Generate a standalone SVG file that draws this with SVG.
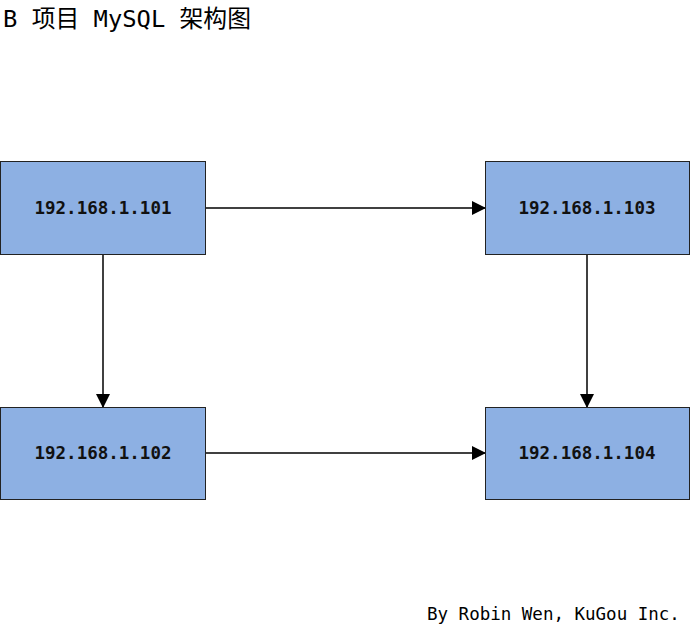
<svg xmlns="http://www.w3.org/2000/svg" width="690" height="626" viewBox="0 0 690 626">
<style>
.box{fill:#8db0e3;stroke:#222;stroke-width:1}
.lbl{font-family:"DejaVu Sans Mono","Liberation Mono",monospace;font-size:17.5px;font-weight:bold;fill:#111;text-anchor:middle}
.ln{stroke:#000;stroke-width:1.5;fill:none}
</style>
<defs><marker id="b" markerWidth="14" markerHeight="14" refX="13" refY="7" orient="auto" markerUnits="userSpaceOnUse"><path d="M0,0 L14,7 L0,14 Z" fill="#000"/></marker></defs>
<rect width="690" height="626" fill="#fff"/>
<text x="3" y="27" font-family="'DejaVu Sans Mono','Noto Sans CJK SC',monospace" font-size="23.8" fill="#000">B 项目 MySQL 架构图</text>
<g id="connectors">
<line class="ln" x1="205" y1="208" x2="485" y2="208" marker-end="url(#b)"/>
<line class="ln" x1="103" y1="255" x2="103" y2="407" marker-end="url(#b)"/>
<line class="ln" x1="587" y1="255" x2="587" y2="407" marker-end="url(#b)"/>
<line class="ln" x1="205" y1="453" x2="485" y2="453" marker-end="url(#b)"/>
</g>
<g id="n101"><rect class="box" x="0.5" y="161.5" width="205" height="93"/><text class="lbl" x="103" y="214">192.168.1.101</text></g>
<g id="n103"><rect class="box" x="485.5" y="161.5" width="204" height="93"/><text class="lbl" x="587" y="214">192.168.1.103</text></g>
<g id="n102"><rect class="box" x="0.5" y="407.5" width="205" height="92"/><text class="lbl" x="103" y="459">192.168.1.102</text></g>
<g id="n104"><rect class="box" x="485.5" y="407.5" width="204" height="92"/><text class="lbl" x="587" y="459">192.168.1.104</text></g>
<text x="427" y="620" font-family="'DejaVu Sans Mono',monospace" font-size="17.5" fill="#000">By Robin Wen, KuGou Inc.</text>
</svg>
